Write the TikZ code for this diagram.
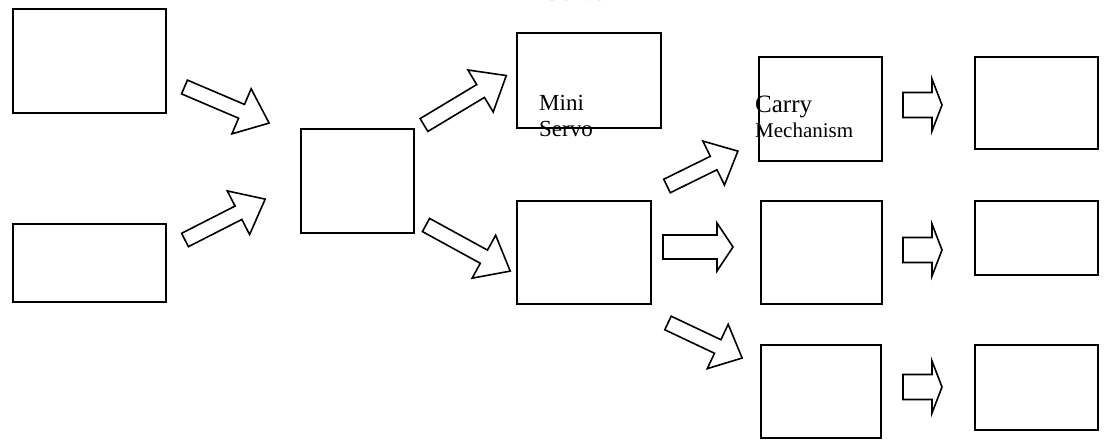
\documentclass[tikz,border=0pt]{standalone}
\usepackage{fontspec}
\setmainfont{Liberation Serif}
\tikzset{
  box/.style={draw, line width=1.6pt, inner sep=0pt, anchor=north west},
  blk/.style={draw, line width=1.6pt, line join=miter},
  lbl/.style={inner sep=0pt, anchor=base west}
}
% x y angle length shafthalf headhalf headlength
\newcommand\blkarrow[7]{%
  \begin{scope}[shift={(#1,#2)},rotate=#3]
    \draw[blk] (0,-#5) -- ({#4-#7},-#5) -- ({#4-#7},-#6) -- (#4,0) -- ({#4-#7},#6) -- ({#4-#7},#5) -- (0,#5) -- cycle;
  \end{scope}}
\begin{document}
\begin{tikzpicture}[x=1pt,y=1pt]
\useasboundingbox (0,0) rectangle (1111,-441);
% boxes
\node[box, minimum width=153pt, minimum height=104pt] (a) at (12,-8) {};
\node[box, minimum width=153pt, minimum height=78pt] (b) at (12,-223) {};
\node[box, minimum width=113pt, minimum height=104pt] (c) at (300,-128) {};
\node[box, minimum width=144pt, minimum height=95pt] (d) at (516,-32) {};
\node[box, minimum width=134pt, minimum height=103pt] (e) at (516,-200) {};
\node[box, minimum width=123pt, minimum height=104pt] (f) at (758,-56) {};
\node[box, minimum width=121pt, minimum height=103pt] (g) at (760,-200) {};
\node[box, minimum width=120pt, minimum height=93pt] (h) at (760,-344) {};
\node[box, minimum width=123pt, minimum height=92pt] (i) at (974,-56) {};
\node[box, minimum width=123pt, minimum height=74pt] (j) at (974,-200) {};
\node[box, minimum width=123pt, minimum height=85pt] (k) at (974,-344) {};
% labels
\node[lbl, font=\fontsize{26}{28}\selectfont, text=black!40] (servotop) at (545,-0.5) {Servo};
\node[lbl, font=\fontsize{23}{26}\selectfont] (mini) at (539,-111) {Mini};
\node[lbl, font=\fontsize{23}{26}\selectfont] (servo) at (539,-137) {Servo};
\node[lbl, font=\fontsize{25}{27}\selectfont] (carry) at (755,-113) {Carry};
\node[lbl, font=\fontsize{21}{24}\selectfont] (mech) at (755,-138) {Mechanism};
% block arrows
\blkarrow{184.5}{-87}{-23.1}{92}{7.5}{24.5}{30}
\blkarrow{185}{-240}{27}{90}{7.5}{24.5}{30}
\blkarrow{424}{-125}{31}{96}{7.5}{24.5}{30}
\blkarrow{426}{-225}{-28.7}{96}{7.5}{24.5}{30}
\blkarrow{667}{-186}{26.2}{79}{7.5}{24.5}{27}
\blkarrow{668}{-323}{-25.3}{82}{7.5}{24.5}{27}
\blkarrow{663}{-247}{0}{70}{12}{24}{16}
\blkarrow{903}{-105}{0}{39}{12.5}{26}{10}
\blkarrow{903}{-250}{0}{39}{12.5}{26}{10}
\blkarrow{903}{-387}{0}{39}{12.5}{26}{10}
\end{tikzpicture}
\end{document}
